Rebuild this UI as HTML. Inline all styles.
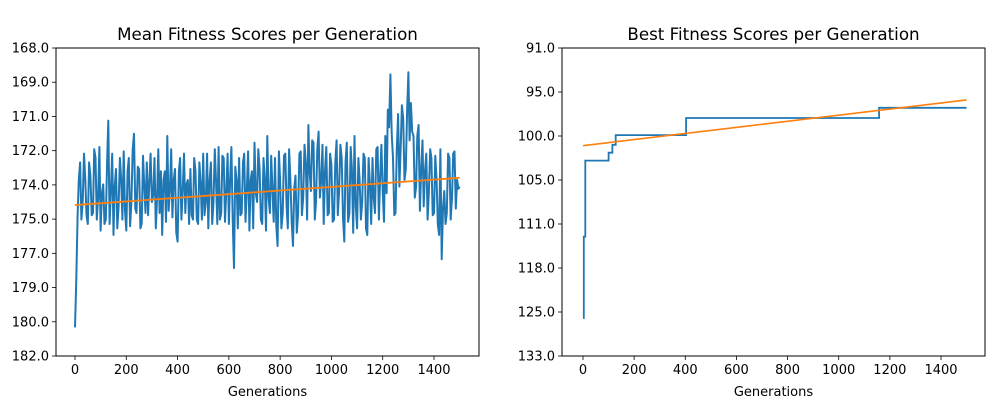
<!DOCTYPE html>
<html><head><meta charset="utf-8"><style>
body{margin:0;background:#fff;}
svg text{font-family:"DejaVu Sans","Liberation Sans",sans-serif;fill:#000;}
</style></head><body>
<svg id="c" width="1000" height="400" viewBox="0 0 1000 400"></svg>
<script>
const meanGensA=[];for(let g=0;g<=1500;g+=10)meanGensA.push(g);
const meanValuesA=[180.7,175.6,173.2,175.0,174.0,176.0,173.8,175.5,173.0,174.8,176.3,174.2,175.8,171.3,174.5,176.5,173.5,175.2,174.0,172.7,176.3,173.0,175.0,171.9,175.5,173.5,176.0,174.2,173.2,174.0,175.0,173.0,174.8,175.5,176.5,173.6,172.0,174.5,175.7,173.5,176.8,173.0,174.5,175.5,174.0,173.5,175.8,173.6,176.0,174.2,172.8,175.0,176.2,173.2,175.0,174.0,172.5,175.5,173.0,174.5,176.0,172.5,178.0,174.0,173.0,175.5,172.8,174.5,176.3,173.6,172.3,175.0,173.5,176.0,174.0,172.0,175.5,174.5,173.0,177.0,174.0,175.5,172.8,176.2,174.0,177.0,173.8,175.5,172.7,174.8,173.2,171.5,174.5,172.3,175.0,171.8,174.0,176.0,172.5,175.5,173.3,175.8,172.2,174.5,173.0,176.8,172.3,175.5,173.5,172.0,176.2,174.0,175.0,173.0,176.5,174.2,173.0,175.5,172.5,173.8,174.5,172.0,170.8,169.2,173.0,175.5,171.0,172.5,171.2,173.5,169.1,170.5,172.0,174.3,171.5,173.5,175.2,172.8,174.5,173.0,175.5,174.0,176.5,177.6,174.5,175.5,173.0,174.8,172.7,174.0,174.3];
const meanValuesMid=[178.5,174.0,175.8,172.8,175.6,173.2,175.6,172.6,175.8,172.5,174.6,176.0,173.2,176.0,172.8,174.3,176.2,173.0,175.8,175.4,173.6,176.1,172.6,175.3,173.4,176.2,172.9,175.5,175.6,172.8,174.7,176.2,172.6,173.6,174.0,175.9,175.4,172.6,174.0,176.4,173.6,175.8,172.8,174.2,176.0,175.6,173.0,175.8,173.2,175.8,175.6,172.8,174.0,176.0,172.6,176.0,175.8,172.9,175.9,172.8,174.0,175.8,173.4,176.2,175.6,173.2,175.9,172.7,174.0,176.2,174.6,172.6,175.8,173.0,176.3,174.8,172.9,175.9,176.1,172.7,176.2,172.9,175.2,172.6,175.9,174.4,176.4,172.8,175.6,172.4,175.8,173.6,172.2,175.8,172.6,174.8,172.4,173.6,175.6,172.8,175.9,173.2,175.6,172.4,175.7,173.2,175.9,172.5,176.4,175.2,173.0,175.8,172.8,176.2,173.0,176.0,174.8,172.6,175.8,172.4,175.9,174.6,171.6,171.9,175.6,172.6,174.3,170.6,174.0,170.9,172.2,171.8,174.8,172.0,175.4,172.2,173.6,175.8,172.6,175.6,172.9,176.0,172.6,175.3,176.0,172.8,175.8,172.8,175.3,174.4];
const meanTrendGens=[0,1500];
const meanTrendValues=[175.14,173.9];
const meanTickLabels=["168.0","169.0","171.0","172.0","174.0","175.0","177.0","179.0","180.0","182.0"];
const bestGens=[0,3,9,100,115,128,403,1158,1500];
const bestValues=[126.1,113.0,102.8,101.9,101.0,99.9,97.95,96.8,96.8];
const bestTrendGens=[0,1500];
const bestTrendValues=[101.1,95.9];
const bestTickValues=[91,95,100,105,111,118,125,133];
const bestTickLabels=["91.0","95.0","100.0","105.0","111.0","118.0","125.0","133.0"];
const xTicks=[0,200,400,600,800,1000,1200,1400];

const svg=document.getElementById('c');const NS='http://www.w3.org/2000/svg';
function mk(t,a,p){const e=document.createElementNS(NS,t);for(const k in a)e.setAttribute(k,a[k]);(p||svg).appendChild(e);return e;}
const topY=48,bot=356;
const L={x0:56,x1:479};
const lx=g=>75+g*(359/1400);
const ly=v=>topY+(v-168)/(14)*(bot-topY);
const R={x0:562,x1:985};
const rx=g=>583+g*(358/1400);
const ry=v=>{for(let i=0;i<bestTickValues.length-1;i++){const a=bestTickValues[i],b=bestTickValues[i+1];if(v<=b||i==bestTickValues.length-2){return topY+(i+(v-a)/(b-a))*44;}}};

function axes(A,xf,name,title,yTicks){
  const g=mk('g',{});
  
  
  const t=mk('text',{x:(A.x0+A.x1)/2,y:40,'text-anchor':'middle','font-size':'16.7'},g);t.textContent=title;
  
  
  xTicks.forEach(v=>{const x=xf(v);mk('line',{x1:x,x2:x,y1:bot,y2:bot+4,stroke:'#000','stroke-width':0.8},g);
    const tt=mk('text',{x:x,y:bot+18,'text-anchor':'middle','font-size':'13'},g);tt.textContent=v;
    
    });
  yTicks.forEach((lab,i)=>{const y=topY+i*(bot-topY)/(yTicks.length-1);mk('line',{x1:A.x0-4,x2:A.x0,y1:y,y2:y,stroke:'#000','stroke-width':0.8},g);
    const tt=mk('text',{x:A.x0-7,y:y+4.5,'text-anchor':'end','font-size':'13'},g);tt.textContent=lab;
    
    });
  const xl=mk('text',{x:(A.x0+A.x1)/2,y:396,'text-anchor':'middle','font-size':'13'},g);xl.textContent='Generations';
  
  
  return g;
}
function frame(A){const r=mk('rect',{x:A.x0,y:topY,width:A.x1-A.x0,height:bot-topY,fill:'none',stroke:'#000','stroke-width':1});
  
  }

axes(L,lx,'mean-chart','Mean Fitness Scores per Generation',meanTickLabels);
const mp=[];
meanGensA.forEach((g,i)=>{mp.push([g,meanValuesA[i]]);if(i<meanValuesMid.length)mp.push([g+5,meanValuesMid[i]]);});
let p=mp.map(d=>lx(d[0]).toFixed(1)+','+ly(d[1]).toFixed(1)).join(' ');
const m=mk('polyline',{points:p,fill:'none',stroke:'#1f77b4','stroke-width':2,'stroke-linejoin':'round'});


const mt=mk('line',{x1:lx(meanTrendGens[0]),y1:ly(meanTrendValues[0]),x2:lx(meanTrendGens[1]),y2:ly(meanTrendValues[1]),stroke:'#ff7f0e','stroke-width':1.8});


frame(L);

axes(R,rx,'best-chart','Best Fitness Scores per Generation',bestTickLabels);
let pts=[];bestGens.forEach((g,i)=>{if(i>0)pts.push(rx(g).toFixed(1)+','+ry(bestValues[i-1]).toFixed(1));pts.push(rx(g).toFixed(1)+','+ry(bestValues[i]).toFixed(1));});
const b=mk('polyline',{points:pts.join(' '),fill:'none',stroke:'#1f77b4','stroke-width':1.8});


const bt=mk('line',{x1:rx(bestTrendGens[0]),y1:ry(bestTrendValues[0]),x2:rx(bestTrendGens[1]),y2:ry(bestTrendValues[1]),stroke:'#ff7f0e','stroke-width':1.6});


frame(R);
</script>
</body></html>
